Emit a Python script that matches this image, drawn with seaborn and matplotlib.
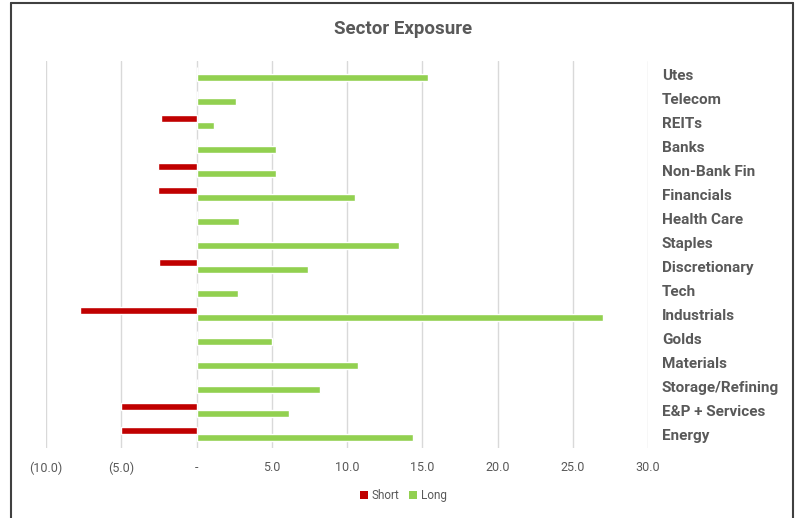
import matplotlib
matplotlib.use("Agg")
import matplotlib.pyplot as plt
from matplotlib.lines import Line2D
from matplotlib.patches import Patch
import seaborn as sns
import pandas as pd

sectors = ["Utes", "Telecom", "REITs", "Banks", "Non-Bank Fin", "Financials",
           "Health Care", "Staples", "Discretionary", "Tech", "Industrials",
           "Golds", "Materials", "Storage/Refining", "E&P + Services", "Energy"]
short_vals = [0, 0, -2.35, 0, -2.55, -2.55, 0, 0, -2.5, 0, -7.75, 0, 0, 0, -5.0, -5.0]
long_vals = [15.4, 2.6, 1.15, 5.25, 5.25, 10.5, 2.85, 13.45, 7.4, 2.75, 27.0,
             5.0, 10.7, 8.2, 6.15, 14.35]
series = ["Short", "Long"]
xticks = [-10, -5, 0, 5, 10, 15, 20, 25, 30]
xtick_labels = ["(10.0)", "(5.0)", "-", "5.0", "10.0", "15.0", "20.0", "25.0", "30.0"]
colors = {"Short": "#C00000", "Long": "#92D050"}

df = pd.DataFrame({
    "Sector": sectors * 2,
    "Series": ["Short"] * len(sectors) + ["Long"] * len(sectors),
    "Value": short_vals + long_vals,
})

sns.set_style("white")
plt.rcParams["font.family"] = ["Roboto", "DejaVu Sans"]

fig = plt.figure(figsize=(7.99, 5.18), dpi=100)
ax = fig.add_axes([0.0576, 0.136, 0.7535, 0.746])

sns.barplot(data=df, y="Sector", x="Value", hue="Series", order=sectors,
            hue_order=series, palette=colors, orient="h", width=0.58,
            dodge=True, ax=ax, legend=False, saturation=1, zorder=3)

ax.set_xlim(-10, 30)
ax.set_ylim(len(sectors) - 0.45, -0.55)
ax.set_xticks(xticks)
ax.set_xticklabels(xtick_labels, color="#595959", fontsize=9)
ax.grid(axis="x", color="#D9D9D9", linewidth=1, zorder=0)
ax.grid(axis="y", visible=False)
for s in ax.spines.values():
    s.set_visible(False)
ax.tick_params(axis="x", length=0, pad=10)
ax.yaxis.tick_right()
ax.tick_params(axis="y", length=0, pad=10)
for lab in ax.get_yticklabels():
    lab.set_fontweight("bold")
    lab.set_color("#595959")
    lab.set_fontsize(11)
    lab.set_horizontalalignment("left")
ax.set_xlabel("")
ax.set_ylabel("")

fig.text(0.504, 0.944, "Sector Exposure", ha="center", va="center",
         fontsize=13.5, fontweight="bold", color="#595959")

handles = [Patch(facecolor=colors[s], edgecolor="none") for s in series]
fig.legend(handles, series, loc="center", bbox_to_anchor=(0.505, 0.043),
           ncol=2, frameon=False, fontsize=8.5, handlelength=0.7,
           handleheight=0.7, handletextpad=0.3, columnspacing=0.8,
           labelcolor="#595959")

# outer frame (left, top, right)
fc = "#404040"
fig.add_artist(Line2D([11 / 799, 11 / 799], [0, 1 - 3 / 518], transform=fig.transFigure, color=fc, lw=1.5))
fig.add_artist(Line2D([11 / 799, 793 / 799], [1 - 3 / 518, 1 - 3 / 518], transform=fig.transFigure, color=fc, lw=1.5))
fig.add_artist(Line2D([793 / 799, 793 / 799], [0, 1 - 3 / 518], transform=fig.transFigure, color=fc, lw=1.5))

fig.savefig("out.png", dpi=100)
